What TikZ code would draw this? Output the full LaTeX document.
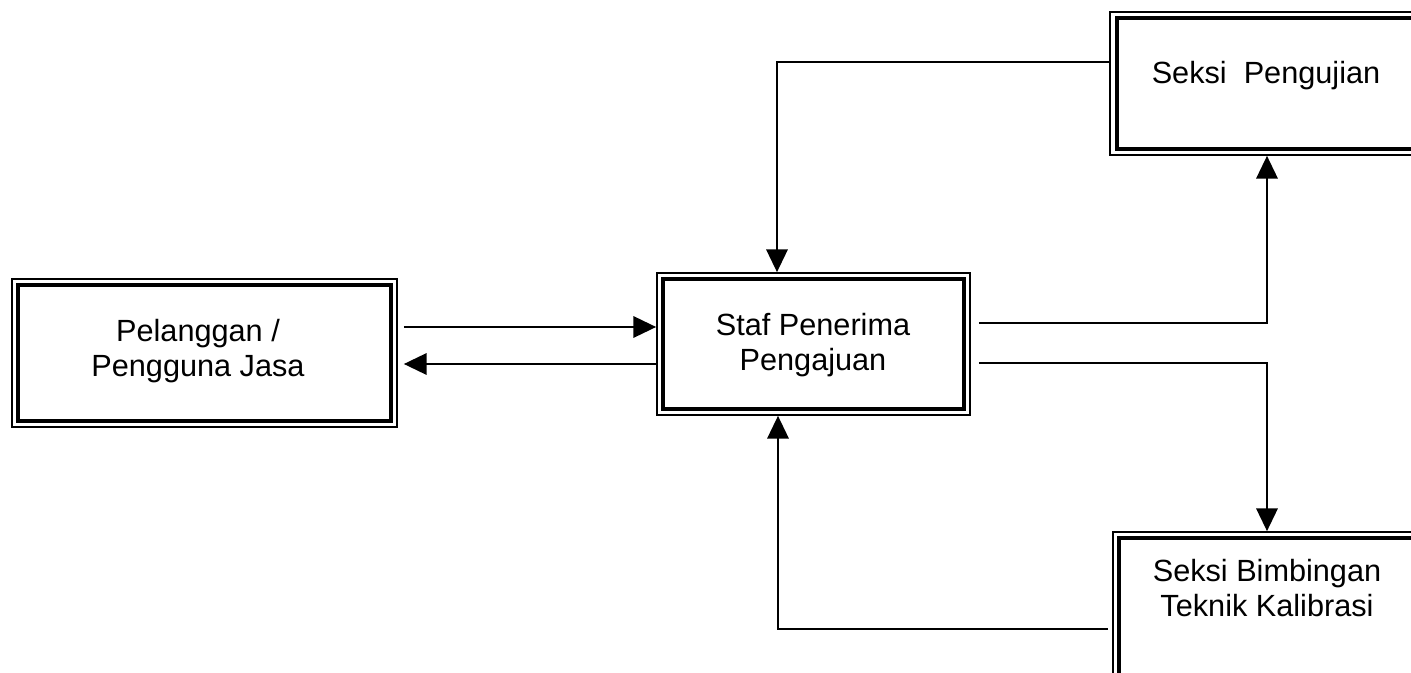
\documentclass[tikz,border=0pt]{standalone}
\usepackage{fontspec}
\setmainfont{Liberation Sans}
\usetikzlibrary{fit,arrows.meta}
\begin{document}
\begin{tikzpicture}[x=0.75pt,y=-0.75pt,
  outerbox/.style={draw=black,line width=1.3pt,inner sep=0pt,fill=none},
  innerbox/.style={draw=black,line width=2.6pt,inner sep=0pt},
  lbl/.style={font=\fontsize{23}{26}\selectfont,align=center,inner sep=0pt},
  arr/.style={line width=1.5pt,-{Triangle[length=17pt,width=16pt]}},
  ln/.style={line width=1.5pt}]
\useasboundingbox (0,0) rectangle (1411,673);
% boxes
\node[outerbox,fit={(12,279) (397,427)}] (L) {};
\node[innerbox,fit={(18,285) (391,421)}] (Li) {};
\node[outerbox,fit={(657,273) (970,415)}] (C) {};
\node[innerbox,fit={(663,279) (964,409)}] (Ci) {};
\node[outerbox,fit={(1110,12) (1425,155)}] (SP) {};
\node[innerbox,fit={(1117,18) (1419,149)}] (SPi) {};
\node[outerbox,fit={(1113,532) (1425,700)}] (SB) {};
\node[innerbox,fit={(1119,538) (1419,694)}] (SBi) {};
% labels
\node[lbl] (tL) at (198,351) {Pelanggan /\\Pengguna Jasa};
\node[lbl] (tC) at (813,345) {Staf Penerima\\Pengajuan};
\node[lbl] (tSP) at (1266,76) {Seksi\ \ Pengujian};
\node[lbl] (tSB) at (1267,588) {Seksi Bimbingan\\Teknik Kalibrasi};
% connectors
\draw[arr,shorten <=6*0.75pt] (L.east |- 0,327) -- (C.west |- 0,327);
\draw[arr,shorten >=6*0.75pt] (C.west |- 0,364) -- (L.east |- 0,364);
\draw[arr] (SP.west |- 0,62) -| (C.north -| 777,0);
\draw[arr,shorten <=8*0.75pt] (C.east |- 0,323) -| (SP.south -| 1267,0);
\draw[arr,shorten <=8*0.75pt] (C.east |- 0,363) -| (SB.north -| 1267,0);
\draw[arr,shorten <=4*0.75pt] (SB.west |- 0,629) -| (C.south -| 778,0);
\end{tikzpicture}
\end{document}
